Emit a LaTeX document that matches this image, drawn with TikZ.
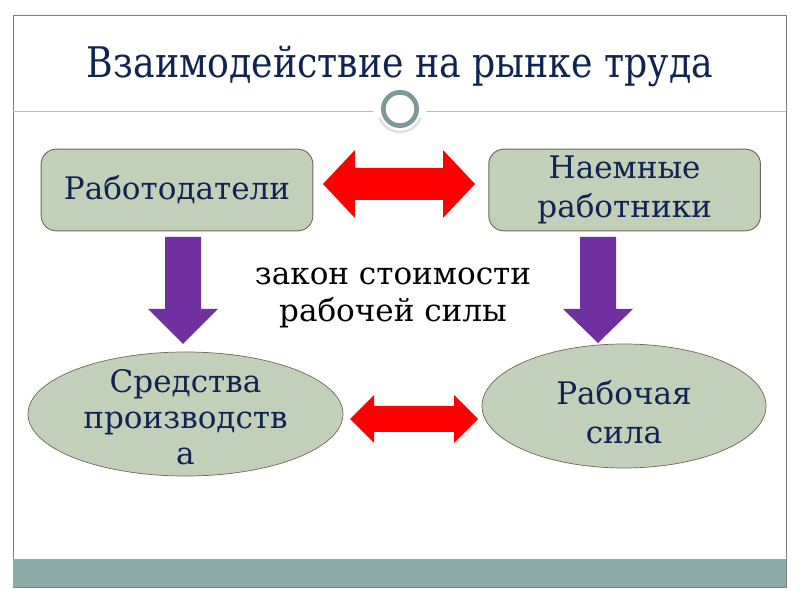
\documentclass[tikz,border=0pt]{standalone}
\usepackage{fontspec}
\setmainfont{DejaVu Serif}
\newfontfamily\titlefont[FakeStretch=0.86]{DejaVu Serif}
\usetikzlibrary{shapes.geometric, positioning}
\definecolor{navy}{RGB}{16,36,82}
\definecolor{sage}{RGB}{194,208,186}
\definecolor{edgegray}{RGB}{112,104,88}
\definecolor{bandteal}{RGB}{139,171,169}
\definecolor{ringteal}{RGB}{124,152,152}
\definecolor{arrowred}{RGB}{255,0,0}
\definecolor{arrowviolet}{RGB}{112,48,160}
\tikzstyle{box} = [rectangle, rounded corners=0.45cm, minimum width=8.15cm, minimum height=2.45cm, text centered, align=center, draw=edgegray, fill=sage, text=navy, line width=0.8pt, font=\fontsize{26.5}{33.5}\selectfont]
\tikzstyle{oval} = [ellipse, inner sep=0pt, draw=edgegray, fill=sage, line width=0.6pt]
\tikzstyle{ovaltext} = [align=center, text=navy, font=\fontsize{26.5}{30.5}\selectfont]
\tikzstyle{redarrow} = [fill=arrowred]
\tikzstyle{violetarrow} = [fill=arrowviolet]

\begin{document}
\begin{tikzpicture}[x=0.03cm, y=-0.03cm]
    \useasboundingbox (0,0) rectangle (800,600);
    % frame, band and separator
    \draw [gray, line width=0.6pt] (13,15) rectangle (786,587);
    \fill [bandteal] (13,559) rectangle (786,587);
    \draw [gray!55, line width=0.6pt] (13,111) -- (786,111);
    \fill [white] (400,110) circle (0.8cm);
    \draw [gray!25, line width=2pt] (400,110) ++(200:0.66cm) arc (200:340:0.66cm);
    \draw [ringteal, line width=4pt] (400,109) circle (0.5cm);

    \node (title) [text=navy, font=\titlefont\fontsize{36}{40}\selectfont] at (400,66) {Взаимодействие на рынке труда};

    \node (boss) [box] at (177,190) {Работодатели};
    \node (hired) [box, right=5.25cm of boss] {Наемные\\работники};

    \node (means) [oval, minimum width=9.45cm, minimum height=3.72cm] at (185.5,414) {};
    \node (labour) [oval, minimum width=8.52cm, minimum height=3.72cm] at (624,406) {};
    \node (meanstext) [ovaltext, yshift=-0.09cm] at (means) {Средства\\производств\\а};
    \node (labourtext) [ovaltext, yshift=-0.18cm, font=\fontsize{26.5}{33.5}\selectfont] at (labour) {Рабочая\\сила};

    \node (law) [align=center, font=\fontsize{26.5}{31.5}\selectfont] at (393,298) {закон стоимости\\рабочей силы};

    % block arrows
    \fill [redarrow] (323,184) -- (355,150) -- (355,168) -- (443,168) -- (443,150) -- (475,184)
        -- (443,218) -- (443,200) -- (355,200) -- (355,218) -- cycle;
    \fill [redarrow] (350,419) -- (374,395) -- (374,406) -- (454,406) -- (454,395) -- (478,419)
        -- (454,443) -- (454,432) -- (374,432) -- (374,443) -- cycle;
    \fill [violetarrow] (165,237) -- (201,237) -- (201,309) -- (218,309) -- (183,344) -- (148,309) -- (165,309) -- cycle;
    \fill [violetarrow] (580,237) -- (616,237) -- (616,309) -- (633,309) -- (598,343) -- (563,309) -- (580,309) -- cycle;
\end{tikzpicture}
\end{document}
